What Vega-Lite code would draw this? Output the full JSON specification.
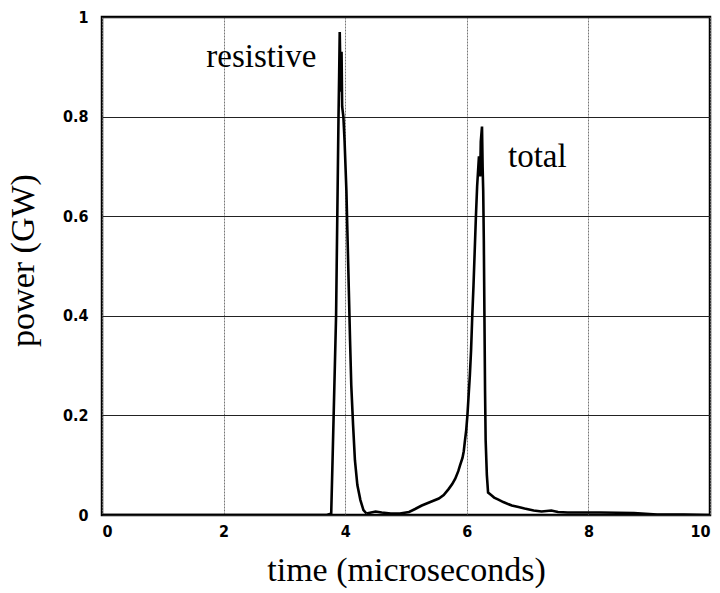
{
  "$schema": "https://vega.github.io/schema/vega-lite/v6.json",
  "autosize": {"type": "none"},
  "width": 608,
  "height": 498,
  "padding": {"left": 102, "top": 17, "right": 10, "bottom": 78},
  "background": "white",
  "config": {
    "view": {"stroke": "black", "strokeWidth": 2.5},
    "axis": {"labelFont": "DejaVu Sans Condensed, Liberation Sans Narrow, Liberation Sans", "labelFontWeight": "bold", "labelFontSize": 16, "labelColor": "black", "titleFont": "Liberation Serif", "titleFontWeight": "normal", "titleFontSize": 34, "titleColor": "black", "ticks": false, "domain": false}
  },
  "datasets": {
    "curves": [
      {"series": "resistive", "t": 0, "p": 0},
      {"series": "resistive", "t": 3.7, "p": 0},
      {"series": "resistive", "t": 3.77, "p": 0.003},
      {"series": "resistive", "t": 3.79, "p": 0.1},
      {"series": "resistive", "t": 3.81, "p": 0.2},
      {"series": "resistive", "t": 3.83, "p": 0.3},
      {"series": "resistive", "t": 3.85, "p": 0.4},
      {"series": "resistive", "t": 3.86, "p": 0.5},
      {"series": "resistive", "t": 3.87, "p": 0.6},
      {"series": "resistive", "t": 3.88, "p": 0.7},
      {"series": "resistive", "t": 3.89, "p": 0.8},
      {"series": "resistive", "t": 3.9, "p": 0.88},
      {"series": "resistive", "t": 3.91, "p": 0.97},
      {"series": "resistive", "t": 3.92, "p": 0.9},
      {"series": "resistive", "t": 3.93, "p": 0.85},
      {"series": "resistive", "t": 3.94, "p": 0.93},
      {"series": "resistive", "t": 3.95, "p": 0.82},
      {"series": "resistive", "t": 3.97, "p": 0.8},
      {"series": "resistive", "t": 3.99, "p": 0.75},
      {"series": "resistive", "t": 4.02, "p": 0.65},
      {"series": "resistive", "t": 4.04, "p": 0.55},
      {"series": "resistive", "t": 4.06, "p": 0.45},
      {"series": "resistive", "t": 4.08, "p": 0.35},
      {"series": "resistive", "t": 4.1, "p": 0.26},
      {"series": "resistive", "t": 4.13, "p": 0.18},
      {"series": "resistive", "t": 4.16, "p": 0.11},
      {"series": "resistive", "t": 4.2, "p": 0.06},
      {"series": "resistive", "t": 4.25, "p": 0.03},
      {"series": "resistive", "t": 4.3, "p": 0.01},
      {"series": "resistive", "t": 4.35, "p": 0.003},
      {"series": "total", "t": 4.35, "p": 0.003},
      {"series": "total", "t": 4.5, "p": 0.007},
      {"series": "total", "t": 4.6, "p": 0.005},
      {"series": "total", "t": 4.75, "p": 0.003},
      {"series": "total", "t": 4.9, "p": 0.003},
      {"series": "total", "t": 5.05, "p": 0.006},
      {"series": "total", "t": 5.15, "p": 0.012},
      {"series": "total", "t": 5.26, "p": 0.019},
      {"series": "total", "t": 5.4, "p": 0.026},
      {"series": "total", "t": 5.54, "p": 0.033},
      {"series": "total", "t": 5.62, "p": 0.04},
      {"series": "total", "t": 5.7, "p": 0.052},
      {"series": "total", "t": 5.76, "p": 0.062},
      {"series": "total", "t": 5.81, "p": 0.073},
      {"series": "total", "t": 5.86, "p": 0.088},
      {"series": "total", "t": 5.89, "p": 0.1},
      {"series": "total", "t": 5.93, "p": 0.115},
      {"series": "total", "t": 5.95, "p": 0.128},
      {"series": "total", "t": 5.97, "p": 0.15},
      {"series": "total", "t": 5.99, "p": 0.17},
      {"series": "total", "t": 6.01, "p": 0.2},
      {"series": "total", "t": 6.03, "p": 0.24},
      {"series": "total", "t": 6.05, "p": 0.28},
      {"series": "total", "t": 6.07, "p": 0.33},
      {"series": "total", "t": 6.09, "p": 0.4},
      {"series": "total", "t": 6.11, "p": 0.46},
      {"series": "total", "t": 6.13, "p": 0.53},
      {"series": "total", "t": 6.15, "p": 0.6},
      {"series": "total", "t": 6.17, "p": 0.66},
      {"series": "total", "t": 6.2, "p": 0.72},
      {"series": "total", "t": 6.22, "p": 0.68},
      {"series": "total", "t": 6.23, "p": 0.75},
      {"series": "total", "t": 6.25, "p": 0.78},
      {"series": "total", "t": 6.26, "p": 0.7},
      {"series": "total", "t": 6.27, "p": 0.65},
      {"series": "total", "t": 6.28, "p": 0.55},
      {"series": "total", "t": 6.29, "p": 0.4},
      {"series": "total", "t": 6.3, "p": 0.25},
      {"series": "total", "t": 6.31, "p": 0.15},
      {"series": "total", "t": 6.33, "p": 0.08},
      {"series": "total", "t": 6.35, "p": 0.045},
      {"series": "total", "t": 6.4, "p": 0.04},
      {"series": "total", "t": 6.45, "p": 0.035},
      {"series": "total", "t": 6.52, "p": 0.031},
      {"series": "total", "t": 6.6, "p": 0.026},
      {"series": "total", "t": 6.74, "p": 0.019},
      {"series": "total", "t": 6.85, "p": 0.016},
      {"series": "total", "t": 6.95, "p": 0.013},
      {"series": "total", "t": 7.1, "p": 0.009},
      {"series": "total", "t": 7.23, "p": 0.007},
      {"series": "total", "t": 7.39, "p": 0.009},
      {"series": "total", "t": 7.5, "p": 0.006},
      {"series": "total", "t": 7.66, "p": 0.005},
      {"series": "total", "t": 8.2, "p": 0.005},
      {"series": "total", "t": 8.75, "p": 0.004},
      {"series": "total", "t": 9.13, "p": 0.001},
      {"series": "total", "t": 9.57, "p": 0.001},
      {"series": "total", "t": 10, "p": 0}
    ],
    "labels": [
      {"label": "resistive", "t": 2.62, "p": 0.9},
      {"label": "total", "t": 7.16, "p": 0.699}
    ]
  },
  "layer": [
    {
      "data": {"name": "curves"},
      "mark": {"type": "line", "color": "black", "strokeWidth": 2.6, "clip": true},
      "encoding": {
        "x": {"field": "t", "type": "quantitative", "scale": {"domain": [0, 10], "nice": false}, "axis": {"title": "time (microseconds)", "values": [0, 2, 4, 6, 8, 10], "format": "d", "grid": true, "gridColor": "#777777", "gridWidth": 1, "gridDash": [2, 1], "labelPadding": 8, "titlePadding": 14}},
        "y": {"field": "p", "type": "quantitative", "scale": {"domain": [0, 1], "nice": false}, "axis": {"title": "power (GW)", "values": [0, 0.2, 0.4, 0.6, 0.8, 1], "labelExpr": "datum.value == 0 ? '0' : datum.value == 1 ? '1' : format(datum.value, '.1f')", "grid": true, "gridColor": "#222222", "gridWidth": 1.2, "labelPadding": 14, "titlePadding": 22, "titleY": 243}},
        "detail": {"field": "series"}
      }
    },
    {
      "data": {"name": "labels"},
      "mark": {"type": "text", "font": "Liberation Serif", "fontSize": 33, "align": "center", "baseline": "alphabetic", "color": "black"},
      "encoding": {
        "x": {"field": "t", "type": "quantitative"},
        "y": {"field": "p", "type": "quantitative"},
        "text": {"field": "label"}
      }
    }
  ]
}
